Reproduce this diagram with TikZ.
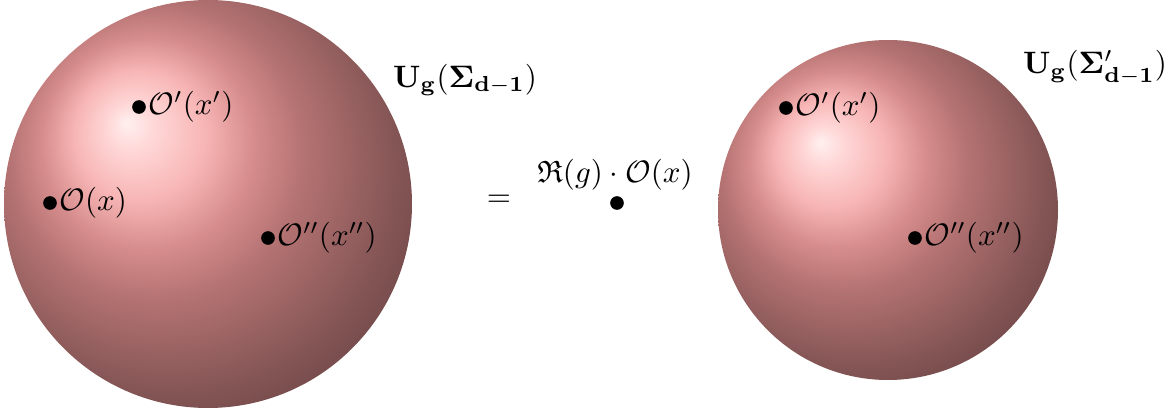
\documentclass[tikz,border=0pt]{standalone}
\usepackage{amsmath,amssymb}
\pgfdeclareradialshading{myball}{\pgfpoint{-10bp}{10bp}}{%
rgb(0bp)=(1,0.94,0.94);
rgb(3bp)=(1,0.84,0.84);
rgb(8bp)=(0.97,0.71,0.71);
rgb(13bp)=(0.84,0.55,0.55);
rgb(18bp)=(0.71,0.45,0.45);
rgb(27bp)=(0.53,0.34,0.34);
rgb(37bp)=(0.37,0.235,0.235);
rgb(50bp)=(0.3,0.19,0.19)}
\begin{document}
\begin{tikzpicture}[x=0.3226pt,y=-0.3226pt,
  dot/.style={circle,fill=black,inner sep=0pt,minimum size=4.4pt},
  lab/.style={anchor=west,inner sep=0.5pt},
  plain/.style={inner sep=0pt}]
\useasboundingbox (0,0) rectangle (1166,416);
\shade[shading=myball] (208,204) circle (204);
\shade[shading=myball] (888,210) circle (170);
% left sphere points
\node[dot] (a1) at (139,107) {};
\node[lab] (la1) at (a1.east) {$\mathcal{O}'(x')$};
\node[dot] (a2) at (50,203) {};
\node[lab] (la2) at (a2.east) {$\mathcal{O}(x)$};
\node[dot] (a3) at (268,238) {};
\node[lab] (la3) at (a3.east) {$\mathcal{O}''(x'')$};
\node[plain] (ua) at (465,80) {$\mathbf{U_g(\Sigma_{d-1})}$};
% middle
\node[plain] (eq) at (499,201) {$=$};
\node[plain] (mt) at (615,175) {$\mathfrak{R}(g)\cdot\mathcal{O}(x)$};
\node[dot] (m) at (617,203) {};
% right sphere points
\node[dot] (b1) at (786,108) {};
\node[lab] (lb1) at (b1.east) {$\mathcal{O}'(x')$};
\node[dot] (b3) at (915,238) {};
\node[lab] (lb3) at (b3.east) {$\mathcal{O}''(x'')$};
\node[plain] (ub) at (1095,68) {$\mathbf{U_g(\Sigma'_{d-1})}$};
\end{tikzpicture}
\end{document}
